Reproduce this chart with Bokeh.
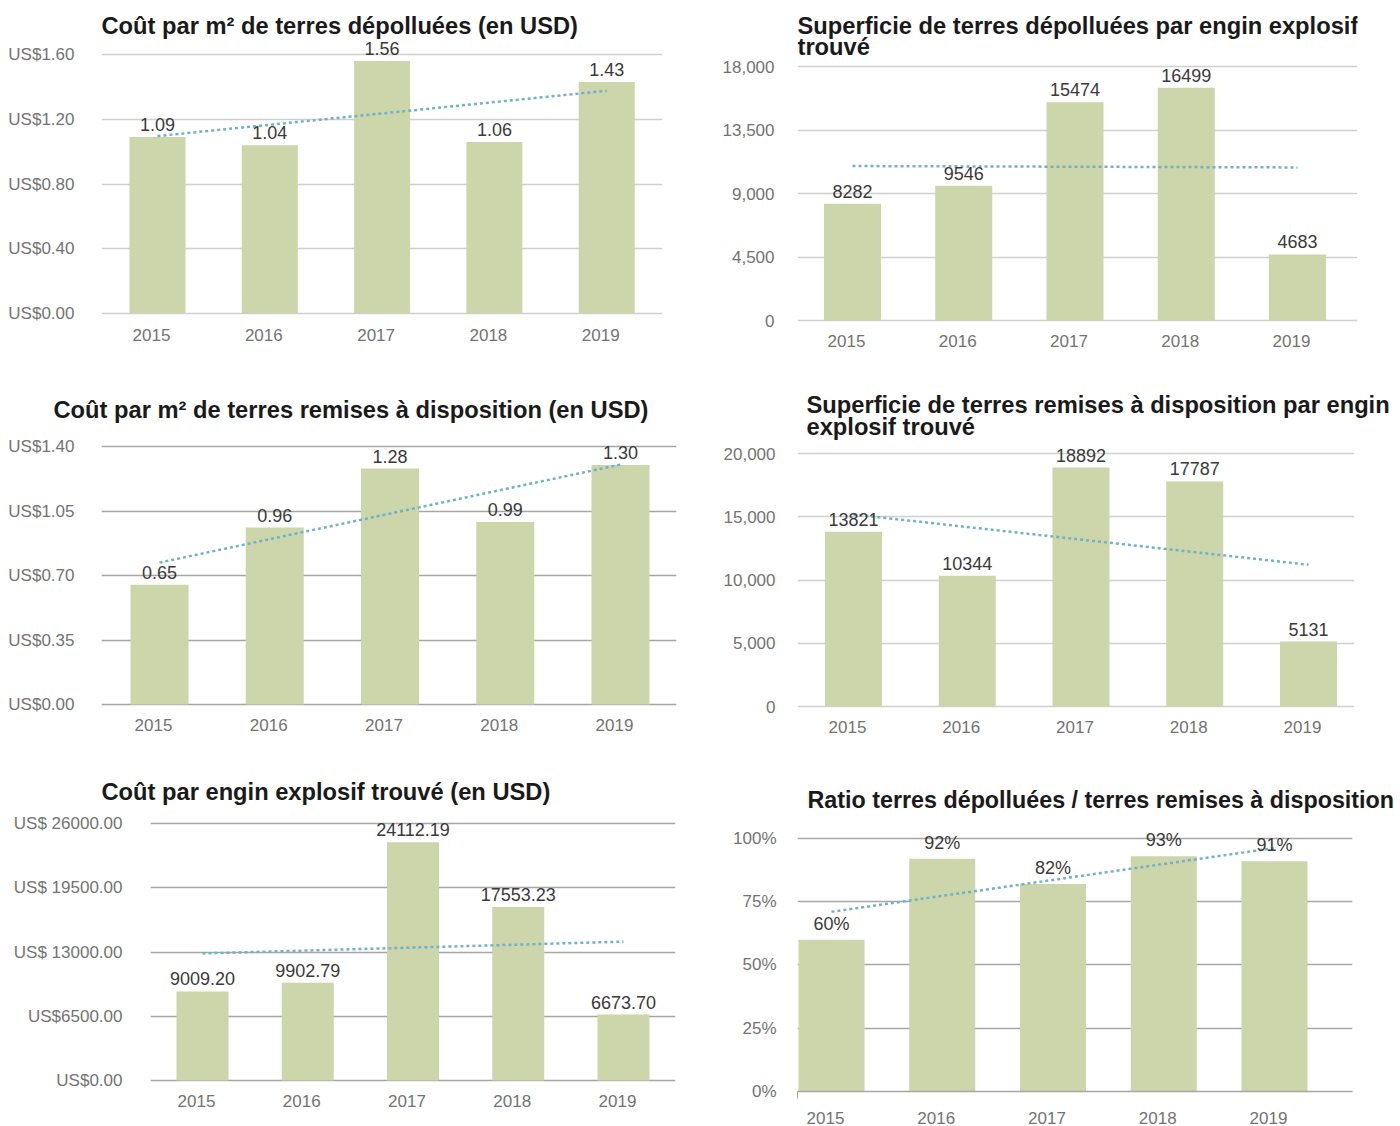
import numpy as np
from bokeh.plotting import figure
from bokeh.layouts import column, row
from bokeh.models import Range1d, FixedTicker, ColumnDataSource, Label
from bokeh.core.properties import value
from bokeh.embed import file_html
from bokeh.resources import INLINE

# ---- data -------------------------------------------------------------
years = ["2015", "2016", "2017", "2018", "2019"]

cost_m2_cleared = [1.09, 1.04, 1.56, 1.06, 1.43]
area_cleared_per_item = [8282, 9546, 15474, 16499, 4683]
cost_m2_released = [0.65, 0.96, 1.28, 0.99, 1.30]
area_released_per_item = [13821, 10344, 18892, 17787, 5131]
cost_per_item = [9009.20, 9902.79, 24112.19, 17553.23, 6673.70]
ratio_cleared_released = [0.60, 0.92, 0.82, 0.93, 0.91]

ticks_cost_m2_cleared = [0, 0.4, 0.8, 1.2, 1.6]
labels_cost_m2_cleared = ["US$0.00", "US$0.40", "US$0.80", "US$1.20", "US$1.60"]
ticks_area_cleared = [0, 4500, 9000, 13500, 18000]
labels_area_cleared = ["0", "4,500", "9,000", "13,500", "18,000"]
ticks_cost_m2_released = [0, 0.35, 0.70, 1.05, 1.40]
labels_cost_m2_released = ["US$0.00", "US$0.35", "US$0.70", "US$1.05", "US$1.40"]
ticks_area_released = [0, 5000, 10000, 15000, 20000]
labels_area_released = ["0", "5,000", "10,000", "15,000", "20,000"]
ticks_cost_item = [0, 6500, 13000, 19500, 26000]
labels_cost_item = ["US$0.00", "US$6500.00", "US$ 13000.00", "US$ 19500.00", "US$ 26000.00"]
ticks_ratio = [0, 0.25, 0.5, 0.75, 1.0]
labels_ratio = ["0%", "25%", "50%", "75%", "100%"]

# ---- style ------------------------------------------------------------
FONT = "Liberation Sans"
BAR = "#cdd5ab"
TREND = "#72b1c8"
LABEL = "#3a3a3a"
TICK = "#737373"
TITLE = "#1a1a1a"
LIGHT_GRID = "#d0d0d0"
DARK_GRID = "#a6a6a6"


def panel(title_lines, values, ticks, tick_labels, fmt, W, H, fl, fr, ft, fb,
          grid_top, zero, first_c, spacing, bar_px, title_x, title_pos,
          ystand, xstand, grid_color, axis_line=False, title_size="23.7px"):
    # pixel geometry of the panel -> data ranges
    ppu = (zero - grid_top) / ticks[-1]
    y0 = -(fb - zero) / ppu
    y1 = ticks[-1] + (grid_top - ft) / ppu
    x0 = -(first_c - fl) / spacing
    x1 = x0 + (fr - fl) / spacing

    p = figure(width=W, height=H, x_range=Range1d(x0, x1), y_range=Range1d(y0, y1),
               output_backend="svg", toolbar_location=None,
               min_border_left=fl, min_border_right=W - fr,
               min_border_top=ft, min_border_bottom=H - fb)
    p.outline_line_color = None
    p.background_fill_color = "white"
    p.border_fill_color = "white"

    if ft == 0:
        # frame reaches the top edge: title drawn inside it, one Label per line
        # (title_pos = centre of the first line)
        p.title.visible = False
        for i, line in enumerate(title_lines):
            p.add_layout(Label(x=title_x - fl, y=fb - (title_pos + 21 * i),
                               x_units="screen", y_units="screen", text=line,
                               text_font=FONT, text_font_size=title_size,
                               text_font_style="bold", text_color=TITLE,
                               text_align="left", text_baseline="middle"))
    else:
        # title in the band above the frame (title_pos = standoff)
        p.title.text = "\n".join(title_lines)
        p.title.text_font = FONT
        p.title.text_font_size = title_size
        p.title.text_font_style = "bold"
        p.title.text_color = TITLE
        p.title.align = "left"
        p.title.offset = title_x - fl
        p.title.standoff = title_pos
        p.title.text_line_height = 0.86

    pos = list(range(len(years)))
    src = ColumnDataSource(dict(x=pos, top=values, lab=[fmt(v) for v in values]))
    p.vbar(x="x", top="top", bottom=0, width=bar_px / spacing, source=src,
           fill_color=BAR, line_color=None)

    # linear trend of the series
    k, b = np.polyfit(pos, values, 1)
    p.line([pos[0], pos[-1]], [k * pos[0] + b, k * pos[-1] + b],
           line_color=TREND, line_width=2.5, line_dash="3 3")

    p.text(x="x", y="top", text="lab", source=src, text_align="center",
           text_baseline="bottom", y_offset=-6, text_font_size="18px",
           text_color=LABEL, text_font=value(FONT))

    p.xgrid.visible = False
    p.ygrid.grid_line_color = grid_color
    p.ygrid.grid_line_width = 1.5

    p.yaxis.ticker = FixedTicker(ticks=ticks)
    p.yaxis.major_label_overrides = dict(zip(ticks, tick_labels))
    p.yaxis.major_label_standoff = ystand
    p.yaxis.axis_line_color = None
    p.yaxis.major_tick_line_color = None
    p.yaxis.minor_tick_line_color = None
    p.yaxis.major_label_text_font = FONT
    p.yaxis.major_label_text_font_size = "17px"
    p.yaxis.major_label_text_color = TICK

    # year labels sit slightly left of the bar centres
    shift = 6 / spacing
    xt = [i - shift for i in pos]
    p.xaxis.ticker = FixedTicker(ticks=xt, minor_ticks=[x0] if axis_line else [])
    p.xaxis.major_label_overrides = dict(zip(xt, years))
    p.xaxis.major_label_standoff = xstand
    p.xaxis.major_tick_line_color = None
    p.xaxis.major_label_text_font = FONT
    p.xaxis.major_label_text_font_size = "17px"
    p.xaxis.major_label_text_color = TICK
    if axis_line:
        p.xaxis.axis_line_color = grid_color
        p.xaxis.axis_line_width = 1.5
        p.xaxis.minor_tick_line_color = grid_color
        p.xaxis.minor_tick_out = 7
        p.xaxis.minor_tick_in = 0
    else:
        p.xaxis.axis_line_color = None
        p.xaxis.minor_tick_line_color = None
    return p


two = lambda v: f"{v:.2f}"
whole = lambda v: f"{v:.0f}"
pct = lambda v: f"{v * 100:.0f}%"

# row 1 (height 370, frames from the top edge down to 322)
p1 = panel(["Coût par m² de terres dépolluées (en USD)"], cost_m2_cleared,
           ticks_cost_m2_cleared, labels_cost_m2_cleared, two,
           700, 370, 101, 662, 0, 322, 54, 313, 157, 112.3, 56, 101, 25, 21, 0, LIGHT_GRID)
p2 = panel(["Superficie de terres dépolluées par engin explosif", "trouvé"],
           area_cleared_per_item, ticks_area_cleared, labels_area_cleared, whole,
           700, 370, 97, 657, 0, 322, 66, 320, 152, 111.25, 57, 97, 25, 17, 6, LIGHT_GRID)
# row 2 (height 385, frames 70..338)
p3 = panel(["Coût par m² de terres remises à disposition (en USD)"], cost_m2_released,
           ticks_cost_m2_released, labels_cost_m2_released, two,
           700, 385, 101, 676, 70, 338, 76, 334, 159, 115.25, 58, 53, 35, 21, 4, DARK_GRID)
p4 = panel(["Superficie de terres remises à disposition par engin", "explosif trouvé"],
           area_released_per_item, ticks_area_released, labels_area_released, whole,
           700, 385, 97, 654, 70, 338, 83, 336, 153, 113.75, 57, 106, 0, 16, 6, LIGHT_GRID)
# row 3 (height 371, frames 58..337)
p5 = panel(["Coût par engin explosif trouvé (en USD)"], cost_per_item,
           ticks_cost_item, labels_cost_item, two,
           700, 371, 150, 675, 58, 337, 68, 326, 202, 105.25, 52, 101, 18, 22, -3, DARK_GRID)
p6 = panel(["Ratio terres dépolluées / terres remises à disposition"], ratio_cleared_released,
           ticks_ratio, labels_ratio, pct,
           700, 371, 97, 652, 58, 337, 83, 337, 131, 110.75, 66, 107, 2, 15, 13, DARK_GRID,
           axis_line=True, title_size="23.3px")

layout = column(row(p1, p2), row(p3, p4), row(p5, p6))

with open("out.html", "w") as f:
    f.write(file_html(layout, INLINE))
